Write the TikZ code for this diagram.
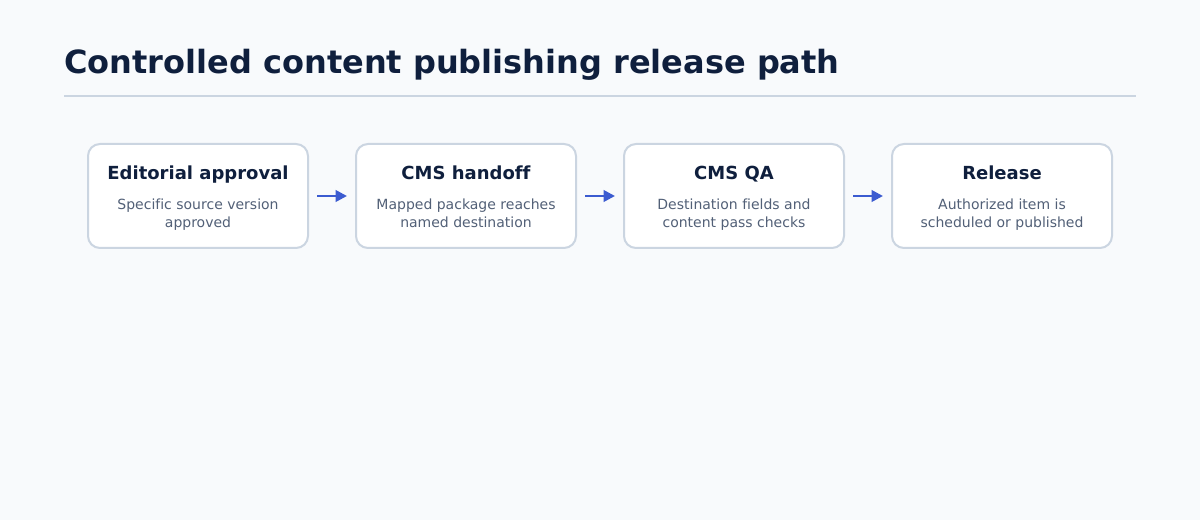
\documentclass[tikz,border=0pt]{standalone}
\usepackage{fontspec}
\setmainfont[Ligatures=NoCommon]{DejaVu Sans}
\usetikzlibrary{arrows.meta}
\definecolor{bg}{HTML}{F8FAFC}
\definecolor{rulec}{HTML}{CBD5E1}
\definecolor{boxline}{HTML}{CBD5E1}
\definecolor{titlec}{HTML}{0F1F3D}
\definecolor{subc}{HTML}{526077}
\definecolor{arrc}{HTML}{3B5BD0}
\tikzset{
  x=0.75pt, y=-0.75pt,
  stepbox/.style={draw=boxline, line width=1.5pt, fill=white, rounded corners=9pt,
    minimum width=165pt, minimum height=78pt, inner sep=0pt},
  boxtitle/.style={font=\fontsize{13.5}{16}\selectfont\bfseries, text=titlec, inner sep=0pt, anchor=base},
  boxsub/.style={font=\fontsize{10.5}{13.5}\selectfont, text=subc, align=center, inner sep=0pt, anchor=base},
  arr/.style={draw=arrc, line width=2pt, -{Triangle[length=8.5pt,width=8.5pt]},
    shorten <=6pt, shorten >=6pt},
}
\begin{document}
\begin{tikzpicture}
\fill[bg] (0,0) rectangle (1200,520);
\useasboundingbox (0,0) rectangle (1200,520);
\node[anchor=base west, font=\fontsize{24}{28}\selectfont\bfseries, text=titlec, inner sep=0pt] (title) at (64,74) {Controlled content publishing release path};
\coordinate (r1) at (64,96);
\coordinate (r2) at (1136,96);
\draw[rulec, line width=1.5pt] (r1) -- (r2);

\node[stepbox] (b1) at (198,196) {};
\node[stepbox] (b2) at (466,196) {};
\node[stepbox] (b3) at (734,196) {};
\node[stepbox] (b4) at (1002,196) {};

\node[boxtitle] (t1) at (198,180) {Editorial approval};
\node[boxtitle] (t2) at (466,180) {CMS handoff};
\node[boxtitle] (t3) at (734,180) {CMS QA};
\node[boxtitle] (t4) at (1002,180) {Release};

\node[boxsub] (s1a) at (198,210) {Specific source version};
\node[boxsub] (s1b) at (198,228) {approved};
\node[boxsub] (s2a) at (466,210) {Mapped package reaches};
\node[boxsub] (s2b) at (466,228) {named destination};
\node[boxsub] (s3a) at (734,210) {Destination fields and};
\node[boxsub] (s3b) at (734,228) {content pass checks};
\node[boxsub] (s4a) at (1002,210) {Authorized item is};
\node[boxsub] (s4b) at (1002,228) {scheduled or published};

\draw[arr] (b1) -- (b2);
\draw[arr] (b2) -- (b3);
\draw[arr] (b3) -- (b4);
\end{tikzpicture}
\end{document}
